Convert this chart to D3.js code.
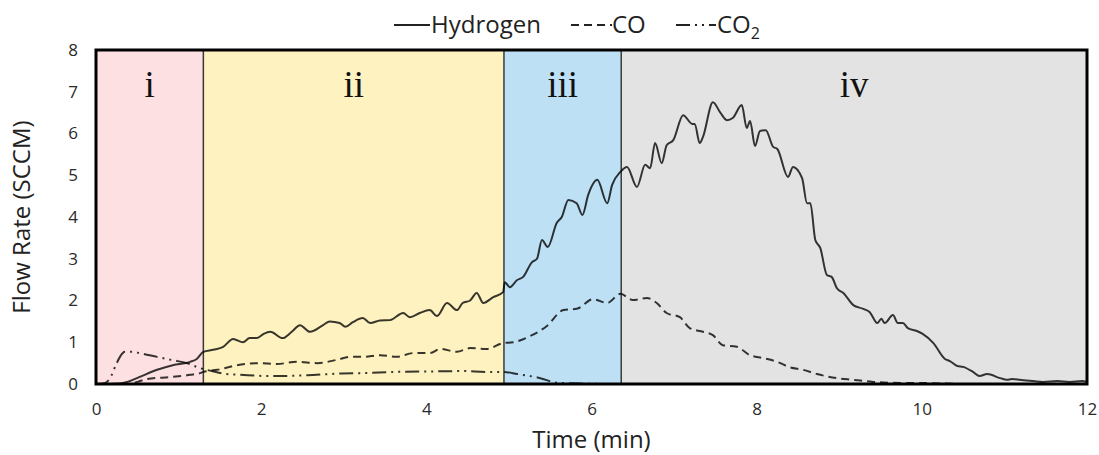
<!DOCTYPE html>
<html>
<head>
<meta charset="utf-8">
<script src="https://cdn.jsdelivr.net/npm/d3@7"></script>
<style>
  body { margin: 0; background: #fff; }
  text { font-family: "Open Sans", sans-serif; fill: #222; }
</style>
</head>
<body>
<svg width="1099" height="455"></svg>
<script>
// stage boundaries (min) and labels
let stageEdges = [0, 1.30, 4.94, 6.36, 12];
let stageLabels = ['i', 'ii', 'iii', 'iv'];
let stageColors = ['#fde0e2', '#fef2c1', '#bee0f4', '#e3e3e3'];

let xTicks = [0, 2, 4, 6, 8, 10, 12];
let yTicks = [0, 1, 2, 3, 4, 5, 6, 7, 8];

// hydrogen flow rate [time, SCCM]
let hydrogen = [
	[0, 0], [0.17, 0], [0.29, 0.01], [0.38, 0.05], [0.53, 0.17], [0.74, 0.34], [0.93, 0.45],
	[1.14, 0.53], [1.22, 0.6], [1.30, 0.77], [1.42, 0.82], [1.54, 0.89], [1.66, 1.08], [1.78, 1.0],
	[1.86, 1.1], [1.95, 1.1], [2.03, 1.2], [2.11, 1.25], [2.26, 1.1], [2.37, 1.25], [2.47, 1.41],
	[2.59, 1.25], [2.75, 1.41], [2.83, 1.5], [2.95, 1.46], [3.02, 1.37], [3.11, 1.48], [3.23, 1.58],
	[3.32, 1.46], [3.44, 1.52], [3.56, 1.53], [3.72, 1.70], [3.80, 1.6], [3.92, 1.7], [4.04, 1.77],
	[4.13, 1.63], [4.25, 1.94], [4.37, 1.77], [4.44, 1.94], [4.53, 2.0], [4.61, 2.18], [4.69, 1.94],
	[4.81, 2.08], [4.93, 2.2], [4.95, 2.44], [5.01, 2.32], [5.10, 2.49], [5.17, 2.56], [5.28, 2.92],
	[5.34, 3.0], [5.40, 3.45], [5.47, 3.28], [5.58, 3.86], [5.64, 4.0], [5.72, 4.41], [5.82, 4.33],
	[5.89, 4.05], [5.96, 4.53], [6.07, 4.89], [6.19, 4.33], [6.25, 4.77], [6.35, 5.08], [6.43, 5.2],
	[6.55, 4.72], [6.65, 5.25], [6.71, 5.17], [6.77, 5.77], [6.85, 5.29], [6.91, 5.72], [6.99, 5.84],
	[7.11, 6.44], [7.22, 6.23], [7.25, 6.23], [7.31, 5.77], [7.35, 5.92], [7.47, 6.75], [7.56, 6.5],
	[7.64, 6.32], [7.71, 6.37], [7.82, 6.68], [7.88, 6.13], [7.92, 6.3], [7.98, 5.7], [8.04, 6.06],
	[8.11, 6.08], [8.20, 5.68], [8.25, 5.63], [8.38, 4.96], [8.44, 5.2], [8.55, 4.93], [8.61, 4.33],
	[8.65, 4.33], [8.71, 3.45], [8.77, 3.26], [8.85, 2.61], [8.91, 2.56], [8.97, 2.30], [9.05, 2.18],
	[9.17, 1.89], [9.29, 1.80], [9.37, 1.72], [9.46, 1.46], [9.51, 1.56], [9.55, 1.46], [9.65, 1.65],
	[9.71, 1.46], [9.77, 1.46], [9.83, 1.34], [9.94, 1.27], [10.01, 1.2], [10.14, 0.98], [10.28, 0.6],
	[10.34, 0.55], [10.43, 0.43], [10.50, 0.41], [10.62, 0.29], [10.70, 0.19], [10.79, 0.24],
	[10.95, 0.14], [11.03, 0.10], [11.09, 0.12], [11.23, 0.09], [11.35, 0.07], [11.47, 0.05],
	[11.64, 0.07], [11.79, 0.05], [11.94, 0.07], [12, 0.05]
];

let co = [
	[0, 0], [0.41, 0], [0.50, 0.05], [0.62, 0.12], [0.93, 0.17], [1.14, 0.22], [1.26, 0.26],
	[1.30, 0.29], [1.47, 0.34], [1.66, 0.43], [1.95, 0.50], [2.19, 0.48], [2.43, 0.53], [2.68, 0.50],
	[2.92, 0.58], [3.08, 0.65], [3.23, 0.65], [3.44, 0.69], [3.64, 0.65], [3.84, 0.74], [4.04, 0.74],
	[4.17, 0.84], [4.37, 0.77], [4.53, 0.86], [4.73, 0.84], [4.93, 0.98], [5.05, 1.0], [5.26, 1.15],
	[5.46, 1.39], [5.66, 1.77], [5.82, 1.80], [6.02, 2.03], [6.19, 1.94], [6.35, 2.16], [6.50, 2.01],
	[6.67, 2.06], [6.79, 1.94], [6.91, 1.70], [7.07, 1.60], [7.19, 1.34], [7.35, 1.25], [7.47, 1.17],
	[7.59, 0.93], [7.76, 0.89], [7.92, 0.69], [8.08, 0.62], [8.25, 0.53], [8.40, 0.40], [8.56, 0.34],
	[8.73, 0.24], [8.97, 0.14], [9.17, 0.10], [9.41, 0.05], [9.65, 0.03], [10.10, 0.02], [10.46, 0]
];

let co2 = [
	[0, 0], [0.10, 0.02], [0.17, 0.14], [0.24, 0.45], [0.29, 0.65], [0.35, 0.77], [0.44, 0.77],
	[0.53, 0.74], [0.74, 0.65], [0.93, 0.57], [1.10, 0.50], [1.26, 0.38], [1.38, 0.32], [1.54, 0.25],
	[1.74, 0.22], [2.14, 0.19], [2.56, 0.21], [2.95, 0.25], [3.23, 0.26], [3.64, 0.29], [4.04, 0.30],
	[4.44, 0.31], [4.73, 0.29], [4.93, 0.29], [5.10, 0.24], [5.38, 0.14], [5.58, 0.03], [5.86, 0.01],
	[6.35, 0]
];

let series = [
	{name: 'Hydrogen', values: hydrogen, dash: null},
	{name: 'CO', values: co, dash: '8,5'},
	{name: 'CO2', values: co2, dash: '14,5,2,5,2,5'}
];

let svg = d3.select('svg');
let margin = {left: 96, right: 12, top: 50, bottom: 71};
let W = 1099, H = 455;

let x = d3.scaleLinear().domain([0, 12]).range([margin.left, W - margin.right]);
let y = d3.scaleLinear().domain([0, 8]).range([H - margin.bottom, margin.top]);

// stage backgrounds
let stages = stageLabels.map((s, i) => ({label: s, x0: stageEdges[i], x1: stageEdges[i + 1], color: stageColors[i]}));

svg.append('g')
	.selectAll('rect')
	.data(stages)
	.join('rect')
	.attr('x', d => x(d.x0))
	.attr('y', y(8))
	.attr('width', d => x(d.x1) - x(d.x0))
	.attr('height', y(0) - y(8))
	.attr('fill', d => d.color);

svg.append('g')
	.selectAll('line')
	.data(stageEdges.slice(1, -1))
	.join('line')
	.attr('x1', d => x(d)).attr('x2', d => x(d))
	.attr('y1', y(8)).attr('y2', y(0))
	.attr('stroke', '#3a3a3a')
	.attr('stroke-width', 1.5);

svg.append('g')
	.selectAll('text')
	.data(stages)
	.join('text')
	.attr('x', d => (x(d.x0) + x(d.x1)) / 2)
	.attr('y', 97)
	.attr('text-anchor', 'middle')
	.style('font-family', '"Liberation Serif", "Times New Roman", serif')
	.style('font-size', '37px')
	.style('fill', '#111')
	.text(d => d.label);

// data lines
let line = d3.line()
	.x(d => x(d[0]))
	.y(d => y(d[1]))
	.curve(d3.curveMonotoneX);

svg.append('g')
	.selectAll('path')
	.data(series)
	.join('path')
	.attr('d', d => line(d.values))
	.attr('fill', 'none')
	.attr('stroke', '#000')
	.attr('stroke-opacity', 0.78)
	.attr('stroke-width', 2)
	.attr('stroke-dasharray', d => d.dash);

// frame
svg.append('rect')
	.attr('x', x(0)).attr('y', y(8))
	.attr('width', x(12) - x(0))
	.attr('height', y(0) - y(8))
	.attr('fill', 'none')
	.attr('stroke', '#000')
	.attr('stroke-width', 3);

// axes
let xAxis = svg.append('g')
	.attr('transform', `translate(0,${y(0)})`)
	.call(d3.axisBottom(x).tickValues(xTicks).tickSize(0).tickPadding(19));
let yAxis = svg.append('g')
	.attr('transform', `translate(${x(0)},0)`)
	.call(d3.axisLeft(y).tickValues(yTicks).tickSize(0).tickPadding(18));

[xAxis, yAxis].forEach(a => {
	a.select('.domain').remove();
	a.selectAll('text')
		.style('font-family', '"Open Sans", sans-serif')
		.style('font-size', '17px')
		.style('fill', '#2a2a2a');
});

svg.append('text')
	.attr('x', (x(0) + x(12)) / 2)
	.attr('y', 448)
	.attr('text-anchor', 'middle')
	.style('font-size', '24px')
	.text('Time (min)');

svg.append('text')
	.attr('transform', `translate(30,${(y(0) + y(8)) / 2}) rotate(-90)`)
	.attr('text-anchor', 'middle')
	.style('font-size', '24px')
	.text('Flow Rate (SCCM)');

// legend
let legendItems = [
	{label: 'Hydrogen', dash: null, x0: 394, x1: 430, tx: 431},
	{label: 'CO', dash: '8,5', x0: 571, x1: 612, tx: 612},
	{label: 'CO', sub: '2', dash: '14,5,2,5,2,5', x0: 676, x1: 716, tx: 717}
];

let legend = svg.append('g');
legend.selectAll('line')
	.data(legendItems)
	.join('line')
	.attr('x1', d => d.x0).attr('x2', d => d.x1)
	.attr('y1', 25).attr('y2', 25)
	.attr('stroke', '#222')
	.attr('stroke-width', 2)
	.attr('stroke-dasharray', d => d.dash);

let lt = legend.selectAll('text')
	.data(legendItems)
	.join('text')
	.attr('x', d => d.tx)
	.attr('y', 33)
	.style('font-size', '24px')
	.text(d => d.label);

lt.filter(d => d.sub)
	.append('tspan')
	.attr('dy', 6)
	.style('font-size', '16px')
	.text(d => d.sub);
</script>
</body>
</html>
